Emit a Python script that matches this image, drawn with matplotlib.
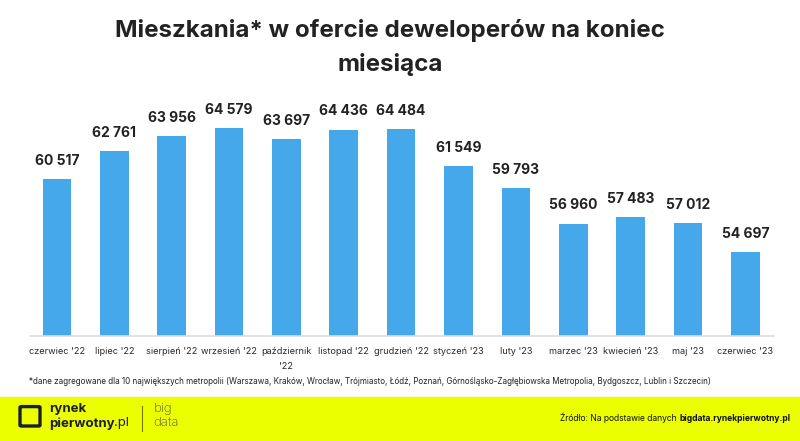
import numpy as np
import matplotlib
matplotlib.use("Agg")
import matplotlib.pyplot as plt
from matplotlib.patches import Rectangle, FancyBboxPatch

months = ["czerwiec '22", "lipiec '22", "sierpień '22", "wrzesień '22",
          "październik\n'22", "listopad '22", "grudzień '22", "styczeń '23",
          "luty '23", "marzec '23", "kwiecień '23", "maj '23", "czerwiec '23"]
flats = [60517, 62761, 63956, 64579, 63697, 64436, 64484,
         61549, 59793, 56960, 57483, 57012, 54697]

title = "Mieszkania* w ofercie deweloperów na koniec\nmiesiąca"
footnote = ("*dane zagregowane dla 10 największych metropolii (Warszawa, Kraków, Wrocław, "
            "Trójmiasto, Łódź, Poznań, Górnośląsko-Zagłębiowska Metropolia, Bydgoszcz, "
            "Lublin i Szczecin)")
source_plain = "Źródło: Na podstawie danych "
source_bold = "bigdata.rynekpierwotny.pl"

plt.rcParams['font.family'] = ['Inter', 'DejaVu Sans']

bar_color = "#45A8EA"
text_dark = "#222222"
band_color = "#EBFF00"


def fmt(v):
    return f"{v:,}".replace(",", " ")


fig = plt.figure(figsize=(8, 4.41), dpi=100)
ax = fig.add_axes([0.0375, 0.238, 0.93, 0.581])

x = np.arange(len(months))
ax.bar(x, flats, width=0.5, color=bar_color, zorder=2)
for xi, v in zip(x, flats):
    ax.annotate(fmt(v), (xi, v), xytext=(0, 8), textcoords="offset points",
                ha="center", va="bottom", fontsize=10, fontweight="bold",
                color=text_dark)

ax.set_xlim(-0.47, len(months) - 0.5)
ax.set_ylim(48000, 68400)
ax.set_xticks(x)
ax.set_xticklabels(months, fontsize=6.6, color="#2a2a2a", linespacing=1.9)
ax.tick_params(axis="x", length=0, pad=8)
ax.set_yticks([])
for side in ["top", "right", "left"]:
    ax.spines[side].set_visible(False)
ax.spines["bottom"].set_color("#DDDDDD")
ax.spines["bottom"].set_linewidth(1.2)

fig.text(0.4875, 0.893, title, ha="center", va="center", fontsize=17.4,
         fontweight="bold", color=text_dark, linespacing=1.6)

fig.text(0.036, 0.136, footnote, ha="left", va="center", fontsize=5.8,
         color=text_dark)

# footer band
fig.patches.append(Rectangle((0, 0), 1, 0.0998, transform=fig.transFigure,
                             color=band_color, zorder=0))

# logo
fig.patches.append(FancyBboxPatch((0.027, 0.036), 0.021, 0.04,
                                  boxstyle="round,pad=0.002",
                                  transform=fig.transFigure, fill=False,
                                  edgecolor="#1E1E2A", linewidth=2.4))
fig.text(0.061, 0.072, "rynek", fontsize=9.5, fontweight="bold", color="#1E1E2A",
         ha="left", va="center")
fig.text(0.061, 0.040, "pierwotny", fontsize=9.5, fontweight="bold",
         color="#1E1E2A", ha="left", va="center")
fig.text(0.142, 0.040, ".pl", fontsize=9.5, color="#1E1E2A", ha="left",
         va="center")
fig.add_artist(plt.Line2D([0.177, 0.177], [0.023, 0.08], color="#777700",
                          linewidth=0.8, transform=fig.transFigure))
fig.text(0.192, 0.072, "big", fontsize=9.5, color="#555544", ha="left",
         va="center", fontweight="light")
fig.text(0.192, 0.040, "data", fontsize=9.5, color="#555544", ha="left",
         va="center", fontweight="light")

# source, bold part right aligned, plain part before it
bold_t = fig.text(0.988, 0.052, source_bold, fontsize=6.1, fontweight="bold",
                  color="#111111", ha="right", va="center")
fig.canvas.draw()
bb = bold_t.get_window_extent().transformed(fig.transFigure.inverted())
fig.text(bb.x0, 0.052, source_plain, fontsize=6.1, color="#111111", ha="right",
         va="center")

fig.savefig("out.png", dpi=100, facecolor="white")
